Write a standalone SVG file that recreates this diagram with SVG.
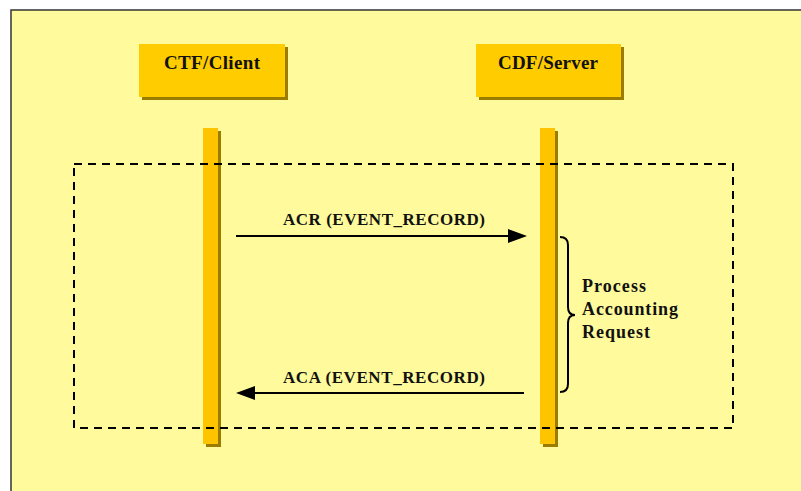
<svg xmlns="http://www.w3.org/2000/svg" width="801" height="491" viewBox="0 0 801 491">
<style>
.lbl{font-family:"Liberation Serif","Times New Roman",serif;font-weight:bold;fill:#111}
.box{fill:#FFCC00}
.shd{fill:#9C7C00}
.life{fill:#FFC400}
.conn{stroke:#000;stroke-width:2;fill:none}
</style>
<rect x="0" y="0" width="801" height="491" fill="#fff"/>
<rect x="11" y="10" width="795" height="490" fill="#FFFB9C" stroke="#333" stroke-width="1.5"/>
<g id="client">
<rect class="shd" x="142" y="47" width="146" height="53"/>
<rect class="box" x="139" y="44" width="146" height="53"/>
<text class="lbl" x="164" y="69" font-size="19" textLength="96" lengthAdjust="spacing">CTF/Client</text>
</g>
<g id="server">
<rect class="shd" x="479" y="47" width="145" height="53"/>
<rect class="box" x="476" y="44" width="145" height="53"/>
<text class="lbl" x="498" y="69" font-size="19" textLength="100" lengthAdjust="spacing">CDF/Server</text>
</g>
<g id="client-lifeline">
<rect class="shd" x="206" y="131" width="15" height="316"/>
<rect class="life" x="203" y="128" width="15" height="316"/>
</g>
<g id="server-lifeline">
<rect class="shd" x="543" y="131" width="15" height="316"/>
<rect class="life" x="540" y="128" width="15" height="316"/>
</g>
<g id="frame">
<rect x="74" y="164" width="659" height="264" fill="none" stroke="#000" stroke-width="2" stroke-dasharray="8,6"/>
</g>
<g id="connectors">
<line class="conn" x1="236" y1="236" x2="510" y2="236"/>
<path d="M527,236 L508,229 L508,243 Z" fill="#000"/>
<text class="lbl" x="283" y="225" font-size="17" textLength="202" lengthAdjust="spacing">ACR (EVENT_RECORD)</text>
<line class="conn" x1="524" y1="393" x2="252" y2="393"/>
<path d="M236,393 L255,386 L255,400 Z" fill="#000"/>
<text class="lbl" x="283" y="383" font-size="17" textLength="202" lengthAdjust="spacing">ACA (EVENT_RECORD)</text>
</g>
<g id="process-note">
<path d="M560,237 Q568,237 568,245 L568,307 Q568,315 575,315 Q568,315 568,323 L568,384 Q568,392 560,392" fill="none" stroke="#000" stroke-width="2"/>
<text class="lbl" x="582" y="292" font-size="18" textLength="64" lengthAdjust="spacing">Process</text>
<text class="lbl" x="582" y="315" font-size="18" textLength="96" lengthAdjust="spacing">Accounting</text>
<text class="lbl" x="582" y="338" font-size="18" textLength="68" lengthAdjust="spacing">Request</text>
</g>
</svg>
